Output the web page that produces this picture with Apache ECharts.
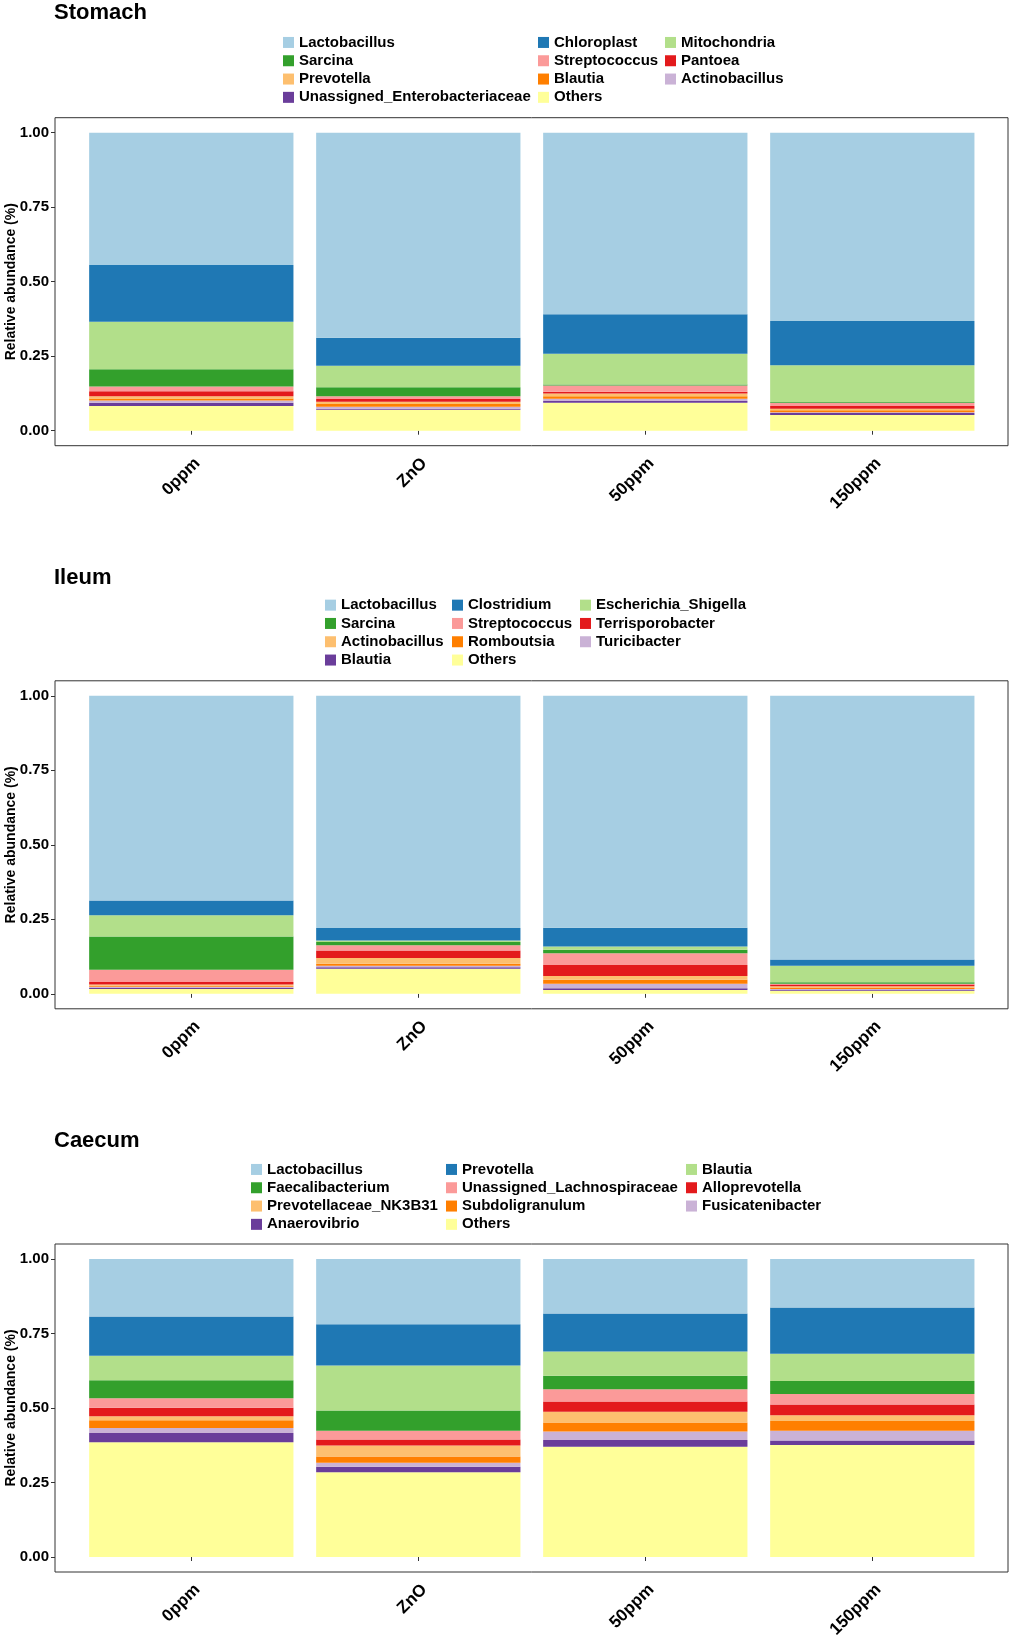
<!DOCTYPE html>
<html>
<head>
<meta charset="utf-8">
<script src="https://cdn.jsdelivr.net/npm/echarts@6/dist/echarts.min.js"></script>
<style>
  body { margin: 0; background: #fff; }
  #chart { width: 1012px; height: 1637px; }
</style>
</head>
<body>
<div id="chart"></div>
<script>
// groups on the x axis
const groups = ['0ppm', 'ZnO', '50ppm', '150ppm'];
const paired = ['#A6CEE3', '#1F78B4', '#B2DF8A', '#33A02C', '#FB9A99', '#E31A1C',
                '#FDBF6F', '#FF7F00', '#CAB2D6', '#6A3D9A', '#FFFF99'];

// taxa in legend order (top of the stack first)
const stomachTaxa = ['Lactobacillus', 'Chloroplast', 'Mitochondria', 'Sarcina', 'Streptococcus', 'Pantoea',
                     'Prevotella', 'Blautia', 'Actinobacillus', 'Unassigned_Enterobacteriaceae', 'Others'];
const stomach0ppm   = [0.444, 0.190, 0.160, 0.058, 0.016, 0.016, 0.008, 0.007, 0.007, 0.011, 0.083];
const stomachZnO    = [0.688, 0.094, 0.072, 0.030, 0.010, 0.009, 0.007, 0.010, 0.006, 0.004, 0.070];
const stomach50ppm  = [0.609, 0.133, 0.103, 0.003, 0.021, 0.006, 0.009, 0.009, 0.007, 0.006, 0.094];
const stomach150ppm = [0.632, 0.148, 0.124, 0.002, 0.011, 0.009, 0.005, 0.007, 0.003, 0.006, 0.053];

const ileumTaxa = ['Lactobacillus', 'Clostridium', 'Escherichia_Shigella', 'Sarcina', 'Streptococcus', 'Terrisporobacter',
                   'Actinobacillus', 'Romboutsia', 'Turicibacter', 'Blautia', 'Others'];
const ileum0ppm   = [0.687, 0.049, 0.072, 0.111, 0.041, 0.009, 0.004, 0.003, 0.004, 0.004, 0.016];
const ileumZnO    = [0.779, 0.042, 0.005, 0.011, 0.018, 0.025, 0.019, 0.007, 0.005, 0.005, 0.084];
const ileum50ppm  = [0.778, 0.063, 0.011, 0.012, 0.039, 0.037, 0.013, 0.013, 0.015, 0.006, 0.013];
const ileum150ppm = [0.885, 0.021, 0.055, 0.005, 0.003, 0.006, 0.004, 0.005, 0.003, 0.003, 0.010];

const caecumTaxa = ['Lactobacillus', 'Prevotella', 'Blautia', 'Faecalibacterium', 'Unassigned_Lachnospiraceae', 'Alloprevotella',
                    'Prevotellaceae_NK3B31', 'Subdoligranulum', 'Fusicatenibacter', 'Anaerovibrio', 'Others'];
const caecum0ppm   = [0.193, 0.132, 0.082, 0.060, 0.032, 0.029, 0.013, 0.026, 0.017, 0.031, 0.385];
const caecumZnO    = [0.219, 0.138, 0.151, 0.068, 0.030, 0.020, 0.037, 0.021, 0.013, 0.019, 0.284];
const caecum50ppm  = [0.183, 0.127, 0.082, 0.045, 0.041, 0.035, 0.036, 0.030, 0.028, 0.023, 0.370];
const caecum150ppm = [0.163, 0.155, 0.091, 0.044, 0.035, 0.036, 0.020, 0.032, 0.033, 0.015, 0.376];

const yTicks = [0, 0.25, 0.5, 0.75, 1];

const panels = [
  { name: 'Stomach', taxa: stomachTaxa, values: [stomach0ppm, stomachZnO, stomach50ppm, stomach150ppm],
    top: 132.7, titleTop: 2, legendTop: 33.3, legendX: [283, 538, 665] },
  { name: 'Ileum', taxa: ileumTaxa, values: [ileum0ppm, ileumZnO, ileum50ppm, ileum150ppm],
    top: 695.8, titleTop: 567, legendTop: 596, legendX: [325, 452, 580] },
  { name: 'Caecum', taxa: caecumTaxa, values: [caecum0ppm, caecumZnO, caecum50ppm, caecum150ppm],
    top: 1259, titleTop: 1130, legendTop: 1160.3, legendX: [251, 446, 686] }
];

const font = 'Liberation Sans, Arial, sans-serif';
const plotH = 298;

const option = {
  animation: false,
  backgroundColor: '#fff',
  title: [], legend: [], grid: [], xAxis: [], yAxis: [], series: [], graphic: []
};

panels.forEach((p, pi) => {
  option.title.push({
    text: p.name, left: 54, top: p.titleTop, padding: 0,
    textStyle: { fontFamily: font, fontSize: 22, fontWeight: 'bold', color: '#000', lineHeight: 22 }
  });
  option.grid.push({ left: 77.8, width: 908, top: p.top, height: plotH,
                     containLabel: false, outerBoundsMode: 'none' });
  option.xAxis.push({
    type: 'category', gridIndex: pi, data: groups, offset: 15,
    axisLine: { show: false },
    axisTick: { show: true, alignWithLabel: true, length: 4, lineStyle: { color: '#333' } },
    axisLabel: { rotate: 45, margin: 9, verticalAlign: 'top', fontFamily: font, fontSize: 17,
                 fontWeight: 'bold', color: '#000' }
  });
  option.yAxis.push({
    type: 'value', gridIndex: pi, min: yTicks[0], max: yTicks[yTicks.length - 1], interval: 0.25, offset: 22.8,
    name: 'Relative abundance (%)', nameLocation: 'middle', nameGap: 37, nameMoveOverlap: false,
    nameTextStyle: { fontFamily: font, fontSize: 14, fontWeight: 'bold', color: '#000' },
    axisLine: { show: false },
    axisTick: { show: true, length: 4, lineStyle: { color: '#333' } },
    splitLine: { show: false },
    axisLabel: { margin: 6, fontFamily: font, fontSize: 15, fontWeight: 'bold', color: '#000',
                 formatter: v => v.toFixed(2) }
  });
  // stack from the bottom: Others first
  for (let j = p.taxa.length - 1; j >= 0; j--) {
    option.series.push({
      type: 'bar', name: p.name + '|' + p.taxa[j], stack: p.name,
      xAxisIndex: pi, yAxisIndex: pi, barWidth: '90%',
      itemStyle: { color: paired[j] },
      data: p.values.map(v => v[j])
    });
  }
  // three legend columns, filled row by row
  p.legendX.forEach((x, c) => {
    const names = p.taxa.filter((t, k) => k % 3 === c).map(t => p.name + '|' + t);
    option.legend.push({
      orient: 'vertical', left: x, top: p.legendTop, padding: 0, itemGap: 0,
      itemWidth: 11, itemHeight: 11, icon: 'rect', selectedMode: false,
      data: names, formatter: n => n.split('|')[1],
      textStyle: { fontFamily: font, fontSize: 15, fontWeight: 'bold', color: '#000', lineHeight: 18.3 }
    });
  });
  // panel border
  option.graphic.push({
    type: 'rect', silent: true,
    shape: { x: 55, y: p.top - 15, width: 953, height: plotH + 30 },
    style: { fill: 'none', stroke: '#333', lineWidth: 1 }
  });
});

const myChart = echarts.init(document.getElementById('chart'));
myChart.setOption(option);
</script>
</body>
</html>
